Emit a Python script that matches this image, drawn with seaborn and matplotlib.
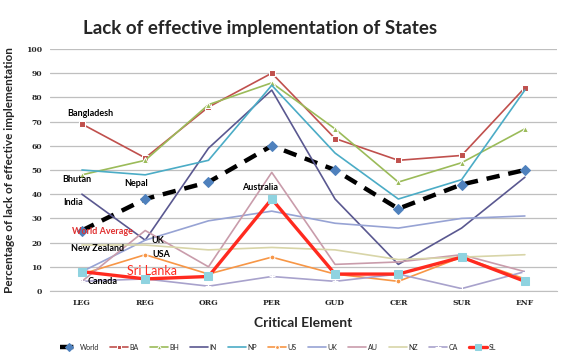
import matplotlib
matplotlib.use("Agg")
import matplotlib.pyplot as plt
import seaborn as sns

# critical elements on the x axis
elements = ["LEG", "REG", "ORG", "PER", "GUD", "CER", "SUR", "ENF"]

# percentage of lack of effective implementation
world = [25, 38, 45, 60, 50, 34, 44, 50]
ba = [69, 55, 76, 90, 63, 54, 56, 84]
bh = [48, 54, 77, 86, 67, 45, 53, 67]
ind = [40, 21, 59, 83, 38, 11, 26, 47]
np_ = [50, 48, 54, 85, 57, 38, 46, 83]
us = [7, 15, 7, 14, 7, 4, 14, 5]
uk = [8, 21, 29, 33, 28, 26, 30, 31]
au = [4, 25, 10, 49, 11, 12, 15, 8]
nz = [19, 19, 17, 18, 17, 13, 14, 15]
ca = [4, 5, 2, 6, 4, 7, 1, 8]
sl = [8, 5, 6, 38, 7, 7, 14, 4]

series = [
    ("World", world, dict(color="black", lw=3.2, dashes=(3, 2), marker="D", ms=5, mfc="#4F81BD", mec="#4F81BD")),
    ("BA", ba, dict(color="#C0504D", lw=1.2, marker="s", ms=4)),
    ("BH", bh, dict(color="#9BBB59", lw=1.2, marker="^", ms=4)),
    ("IN", ind, dict(color="#5A5890", lw=1.2, marker="", ms=4)),
    ("NP", np_, dict(color="#4BACC6", lw=1.2, marker="", ms=4)),
    ("US", us, dict(color="#F79646", lw=1.2, marker="o", ms=3.5)),
    ("UK", uk, dict(color="#97A3D4", lw=1.2, marker="", ms=4)),
    ("AU", au, dict(color="#C99CAB", lw=1.2, marker="", ms=4)),
    ("NZ", nz, dict(color="#D8D5A8", lw=1.2, marker="", ms=4)),
    ("CA", ca, dict(color="#A8A2CC", lw=1.2, marker="+", ms=5)),
    ("SL", sl, dict(color="#FF2A1F", lw=2.4, marker="s", ms=6, mfc="#8FD3E0", mec="#8FD3E0")),
]

sns.set_style("white")
fig = plt.figure(figsize=(5.65, 3.64), dpi=100)
ax = fig.add_axes([0.089, 0.2005, 0.896, 0.665])

for name, vals, kw in series:
    sns.lineplot(x=elements, y=vals, ax=ax, label=name, sort=False, **kw)

ax.set_xlim(-0.5, 7.5)
ax.set_ylim(0, 100)
ax.set_yticks(range(0, 101, 10))
ax.yaxis.grid(True, color="#BFBFBF", lw=0.9)
for s in ["top", "right", "left"]:
    ax.spines[s].set_visible(False)
ax.spines["bottom"].set_color("#BFBFBF")
ax.tick_params(axis="both", labelsize=5.5, length=0, pad=6)
for lab in ax.get_xticklabels() + ax.get_yticklabels():
    lab.set_fontweight("bold")
    lab.set_family("DejaVu Serif")

ax.set_xlabel("Critical Element", fontsize=10, fontweight="bold", family="Lato", labelpad=7)
ax.set_ylabel("Percentage of lack of effective implementation", fontsize=8.5,
              fontweight="bold", family="Lato", labelpad=8)
fig.text(0.46, 0.922, "Lack of effective implementation of States", ha="center", va="center",
         fontsize=13.5, fontweight="bold", family="Lato")

# country labels
labels = [
    ("Bangladesh", 0.13, 73.5, "center", "black", 6.5),
    ("Bhutan", -0.08, 46, "center", "black", 6.5),
    ("Nepal", 0.86, 44.6, "center", "black", 6.5),
    ("India", -0.14, 36.4, "center", "black", 6.5),
    ("World Average", 0.33, 24.4, "center", "#E03030", 6.5),
    ("UK", 1.1, 20.7, "left", "black", 6.5),
    ("New Zealand", 0.25, 17.4, "center", "black", 6.5),
    ("USA", 1.11, 14.9, "left", "black", 6.5),
    ("Sri Lanka", 1.11, 8.3, "center", "#FF2A1F", 9),
    ("Canada", 0.33, 4.1, "center", "black", 6.5),
    ("Australia", 2.81, 42.6, "center", "black", 6.5),
]
for txt, x, y, ha, c, fs in labels:
    w = "bold" if txt != "Sri Lanka" else "normal"
    ax.text(x, y, txt, ha=ha, va="center", color=c, fontsize=fs, fontweight=w, family="Lato")

ax.legend(loc="center", bbox_to_anchor=(0.45, -0.232), ncol=11, frameon=False,
          handlelength=2.6, columnspacing=1.6, handletextpad=0.2, markerscale=0.8,
          prop={"family": "Lato", "size": 5})

fig.savefig("out.png", dpi=100)
